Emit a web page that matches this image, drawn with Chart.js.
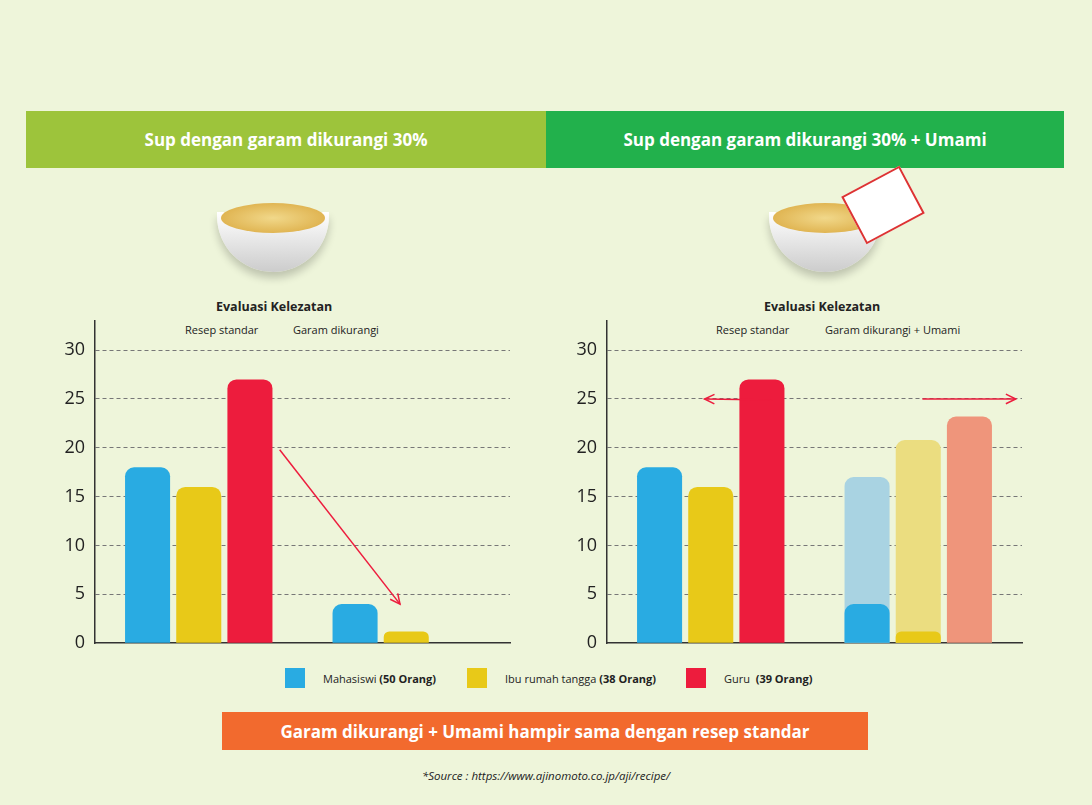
<!DOCTYPE html>
<html>
<head>
<meta charset="utf-8">
<script src="https://cdn.jsdelivr.net/npm/chart.js@4"></script>
<style>
  body { margin: 0; width: 1092px; height: 805px; background: #eef5da; font-family: "Open Sans", "Noto Sans", sans-serif; position: relative; overflow: hidden; }
  .hdr { position: absolute; top: 111px; height: 57px; color: #fff; font-weight: 700; font-size: 17px; display: flex; align-items: center; justify-content: center; }
  .t { position: absolute; font-size: 11px; color: #222; }
  .ev { position: absolute; font-size: 12.5px; font-weight: 700; color: #222; }
  canvas { position: absolute; }
  .lg { position: absolute; top: 668px; font-size: 11px; color: #222; display: flex; align-items: center; }
  .lg span.sw { width: 20px; height: 20px; margin-right: 18px; display: inline-block; }
  .bowl { position: absolute; width: 112px; height: 60px; border-radius: 0 0 56px 56px; background: linear-gradient(#fff, #ccc); box-shadow: 0 6px 8px rgba(0,0,0,0.2); }
  .soup { position: absolute; width: 104px; height: 30px; border-radius: 50%; background: radial-gradient(#f1d88a, #d9a63b); }
</style>
</head>
<body>
<div class="hdr" style="left:26px;width:520px;background:#9dc43b">Sup dengan garam dikurangi 30%</div>
<div class="hdr" style="left:546px;width:518px;background:#22b14c">Sup dengan garam dikurangi 30% + Umami</div>

<div class="bowl" style="left:217px;top:212px"></div><div class="soup" style="left:221px;top:203px"></div>
<div class="bowl" style="left:769px;top:212px"></div><div class="soup" style="left:773px;top:203px"></div>
<div style="position:absolute;left:850px;top:178px;width:62px;height:50px;background:#fff;border:2px solid #d33;transform:rotate(-28deg)"></div>

<div class="ev" style="left:216px;top:298px">Evaluasi Kelezatan</div>
<div class="ev" style="left:764px;top:298px">Evaluasi Kelezatan</div>
<div class="t" style="left:185px;top:322px">Resep standar</div>
<div class="t" style="left:293px;top:322px">Garam dikurangi</div>
<div class="t" style="left:716px;top:322px">Resep standar</div>
<div class="t" style="left:825px;top:322px">Garam dikurangi + Umami</div>

<canvas id="c1" style="left:30px;top:300px" width="490" height="364"></canvas>
<canvas id="c2" style="left:542px;top:300px" width="490" height="364"></canvas>

<div class="lg" style="left:285px"><span class="sw" style="background:#29abe2"></span>Mahasiswi&nbsp;<b>(50 Orang)</b></div>
<div class="lg" style="left:467px"><span class="sw" style="background:#e8c918"></span>Ibu rumah tangga&nbsp;<b>(38 Orang)</b></div>
<div class="lg" style="left:686px"><span class="sw" style="background:#ed1c3d"></span>Guru&nbsp;&nbsp;<b>(39 Orang)</b></div>

<div style="position:absolute;left:222px;top:712px;width:646px;height:38px;background:#f26a2e;color:#fff;font-weight:700;font-size:17px;display:flex;align-items:center;justify-content:center">Garam dikurangi + Umami hampir sama dengan resep standar</div>
<div style="position:absolute;left:0;width:1092px;top:768px;text-align:center;font-size:11.5px;font-style:italic;color:#222">*Source : https://www.ajinomoto.co.jp/aji/recipe/</div>

<script>
const groupsLeft = ['Resep standar', 'Garam dikurangi'];
const groupsRight = ['Resep standar', 'Garam dikurangi + Umami'];
const mahasiswi = [18, 4];
const ibu = [16, 1.2];
const guruLeft = [27, null];
const mahasiswiUmami = [null, 17];
const ibuUmami = [null, 20.8];
const guruRight = [27, 23.2];
const yTicks = [0, 5, 10, 15, 20, 25, 30];
// arrows in data coords: [fromIndex, fromValue, toIndex, toValue] as index offsets
const arrowLeft = [[0.39, 19.8, 0.97, 4]];
const arrowRight = [[0.3, 24.9, -0.03, 25], [1.02, 25, 1.47, 25]];

const RED = '#ed1c3d';

function arrowPlugin(arrows) {
  return {
    id: 'arrows',
    afterDatasetsDraw(chart) {
      const { ctx, scales: { x, y } } = chart;
      ctx.save();
      ctx.strokeStyle = RED; ctx.lineWidth = 1.5;
      const step = x.getPixelForValue(1) - x.getPixelForValue(0);
      arrows.forEach(a => {
        const x0 = x.getPixelForValue(0) + a[0] * step;
        const x1 = x.getPixelForValue(0) + a[2] * step;
        const y0 = y.getPixelForValue(a[1]), y1 = y.getPixelForValue(a[3]);
        ctx.beginPath(); ctx.moveTo(x0, y0); ctx.lineTo(x1, y1); ctx.stroke();
        const ang = Math.atan2(y1 - y0, x1 - x0);
        ctx.beginPath();
        ctx.moveTo(x1 - 11 * Math.cos(ang - 0.45), y1 - 11 * Math.sin(ang - 0.45));
        ctx.lineTo(x1, y1);
        ctx.lineTo(x1 - 11 * Math.cos(ang + 0.45), y1 - 11 * Math.sin(ang + 0.45));
        ctx.stroke();
      });
      ctx.restore();
    }
  };
}

function options() {
  return {
    responsive: false, animation: false,
    layout: { padding: { top: 0, bottom: 12, right: 10 } },
    plugins: { legend: { display: false }, tooltip: { enabled: false } },
    datasets: { bar: { categoryPercentage: 0.74, barPercentage: 0.88, borderRadius: 9, borderSkipped: 'bottom' } },
    scales: {
      x: { stacked: true, grid: { display: false }, ticks: { display: false },
           border: { color: '#333', width: 1.5 } },
      y: { min: 0, max: 33,
           afterBuildTicks: s => { s.ticks = yTicks.map(v => ({ value: v })); },
           afterFit: s => { s.width = 65; },
           ticks: { color: '#222', font: { size: 18, family: 'Open Sans' }, padding: 10 },
           grid: { color: ctx => ctx.tick && ctx.tick.value === 0 ? 'rgba(0,0,0,0)' : '#777', drawTicks: false },
           border: { color: '#333', width: 1.5, dash: [4, 3] } }
    }
  };
}

new Chart(document.getElementById('c1'), {
  type: 'bar',
  data: { labels: groupsLeft, datasets: [
    { data: mahasiswi, backgroundColor: '#29abe2', stack: 'm' },
    { data: ibu, backgroundColor: '#e8c918', stack: 'i' },
    { data: guruLeft, backgroundColor: RED, stack: 'g' }
  ] },
  options: options(),
  plugins: [arrowPlugin(arrowLeft)]
});

const o2 = options();
o2.scales.y.stacked = false;
new Chart(document.getElementById('c2'), {
  type: 'bar',
  data: { labels: groupsRight, datasets: [
    { data: mahasiswi, backgroundColor: '#29abe2', stack: 'm', order: 1 },
    { data: mahasiswiUmami, backgroundColor: '#a9d3e2', stack: 'm', order: 2 },
    { data: ibu, backgroundColor: '#e8c918', stack: 'i', order: 1 },
    { data: ibuUmami, backgroundColor: '#ebdd80', stack: 'i', order: 2 },
    { data: guruRight, backgroundColor: [RED, '#ef957b'], stack: 'g', order: 1 }
  ] },
  options: o2,
  plugins: [arrowPlugin(arrowRight)]
});
</script>
</body>
</html>
